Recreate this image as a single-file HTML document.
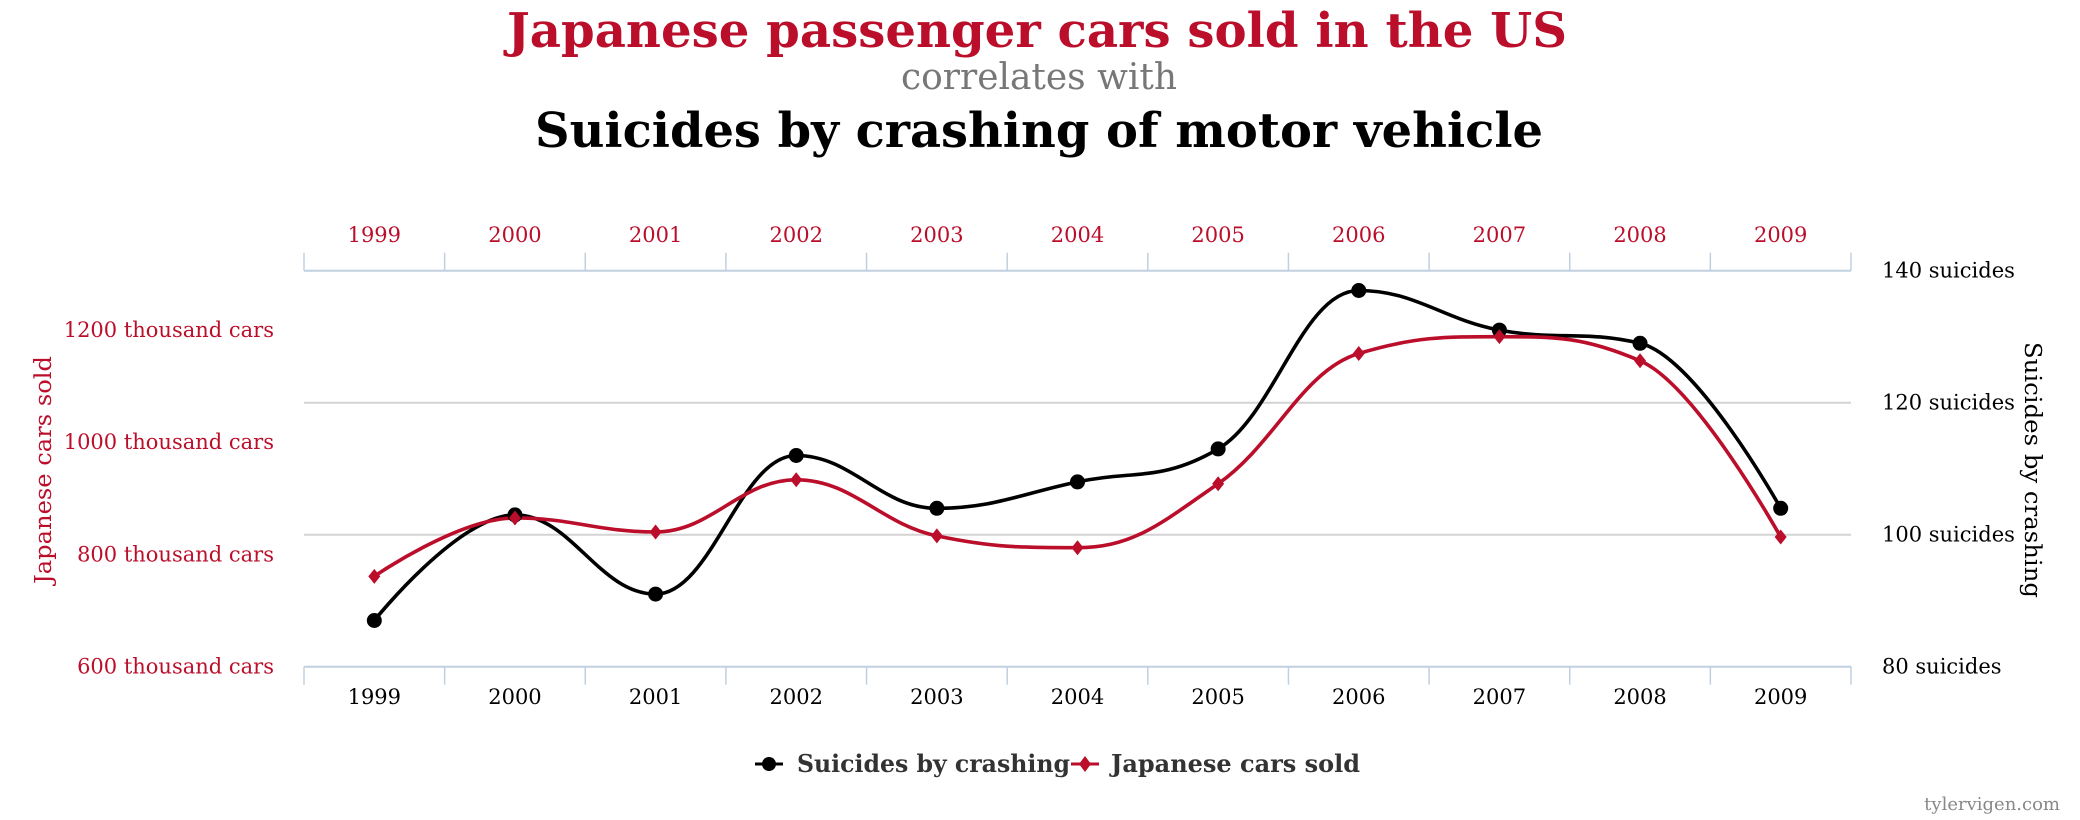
<!DOCTYPE html>
<html><head><meta charset="utf-8"><style>
html,body{margin:0;padding:0;background:#fff;}
svg{display:block;}
text{font-family:"DejaVu Serif","Liberation Serif",serif;}
</style></head><body>
<svg id="chart" width="2080" height="820" viewBox="0 0 2080 820" xmlns="http://www.w3.org/2000/svg">
<text x="1037" y="47" text-anchor="middle" font-size="48" font-weight="bold" fill="#bb0e2b" textLength="1060" lengthAdjust="spacingAndGlyphs">Japanese passenger cars sold in the US</text>
<text x="1039" y="89" text-anchor="middle" font-size="36" fill="#777" textLength="276" lengthAdjust="spacingAndGlyphs">correlates with</text>
<text x="1039" y="147" text-anchor="middle" font-size="48" font-weight="bold" fill="#000" textLength="1008" lengthAdjust="spacingAndGlyphs">Suicides by crashing of motor vehicle</text>
<g id="grid"></g>
<g id="axes"></g>
<g id="series"></g>
<text transform="translate(51,470) rotate(-90)" text-anchor="middle" font-size="23" fill="#bb0e2b" textLength="228" lengthAdjust="spacingAndGlyphs">Japanese cars sold</text>
<text transform="translate(2025,470) rotate(90)" text-anchor="middle" font-size="23" fill="#000" textLength="256" lengthAdjust="spacingAndGlyphs">Suicides by crashing</text>
<g>
 <g>
  <line x1="755" y1="764" x2="783" y2="764" stroke="#000" stroke-width="3"/>
  <circle cx="769" cy="764" r="7" fill="#000"/>
  <text x="797" y="772" font-size="24" font-weight="bold" fill="#333" textLength="273" lengthAdjust="spacingAndGlyphs">Suicides by crashing</text>
 </g>
 <g>
  <line x1="1071" y1="764" x2="1099" y2="764" stroke="#bb0e2b" stroke-width="3"/>
  <path d="M1085 756 L1091 764 L1085 772 L1079 764 Z" fill="#bb0e2b"/>
  <text x="1111" y="772" font-size="24" font-weight="bold" fill="#333" textLength="249" lengthAdjust="spacingAndGlyphs">Japanese cars sold</text>
 </g>
</g>
<text x="2060" y="810" text-anchor="end" font-size="18" fill="#888">tylervigen.com</text>
</svg>
<script>
const years = ["1999","2000","2001","2002","2003","2004","2005","2006","2007","2008","2009"];
const suicides = [87,103,91,112,104,108,113,137,131,129,104];
const carsSold = [761,865,840,933,833,812,926,1158,1188,1145,831];
const leftTicks = [600,800,1000,1200];
const rightTicks = [80,100,120,140];

const NS="http://www.w3.org/2000/svg";
const L=304,R=1851,T=270.7,B=666.7;
const band=(R-L)/years.length;
function x(i){return L+band*(i+0.5);}
function yR(v){return B-(v-80)/60*(B-T);}
function yL(v){return B-(v-600)*0.5613;}
function mk(tag,attrs,parent,txt){const e=document.createElementNS(NS,tag);for(const k in attrs)e.setAttribute(k,attrs[k]);if(txt!==undefined)e.textContent=txt;parent.appendChild(e);return e;}
const grid=document.getElementById('grid'),axes=document.getElementById('axes'),ser=document.getElementById('series');
rightTicks.forEach((v,i)=>{
  if(i>0&&i<rightTicks.length-1){
    const g=mk('line',{x1:L,x2:R,y1:yR(v),y2:yR(v),stroke:'#d4d4d4','stroke-width':2},grid);
    
    
  }
  const t=mk('text',{x:1882,y:yR(v)+7,'font-size':21,fill:'#000'},axes,v+' suicides');
  
  
});
leftTicks.forEach(v=>{
  const t=mk('text',{x:274,y:yL(v)+7,'text-anchor':'end','font-size':21,fill:'#bb0e2b'},axes,v+' thousand cars');
  
  
});
const ta=mk('line',{x1:L,x2:R,y1:T,y2:T,stroke:'#c0d0e0','stroke-width':2},axes);


const ba=mk('line',{x1:L,x2:R,y1:B,y2:B,stroke:'#c0d0e0','stroke-width':2},axes);


for(let i=0;i<=years.length;i++){
  const xx=L+band*i;
  mk('line',{x1:xx,x2:xx,y1:T-18,y2:T,stroke:'#c0d0e0','stroke-width':1.5},axes);
  mk('line',{x1:xx,x2:xx,y1:B,y2:B+18,stroke:'#c0d0e0','stroke-width':1.5},axes);
}
years.forEach((yv,i)=>{
  const a=mk('text',{x:x(i),y:242,'text-anchor':'middle','font-size':21,fill:'#bb0e2b'},axes,yv);
  
  
  const b=mk('text',{x:x(i),y:704,'text-anchor':'middle','font-size':21,fill:'#000'},axes,yv);
  
  
});
function spline(pts){
  const s=1.5,d=2.5;let path='M'+pts[0][0]+' '+pts[0][1];
  const conts=pts.map((p,i)=>{
    if(i===0||i===pts.length-1)return {lx:p[0],ly:p[1],rx:p[0],ry:p[1]};
    const [px,py]=p,[lx0,ly0]=pts[i-1],[nx,ny]=pts[i+1];
    let lx=(s*px+lx0)/d,ly=(s*py+ly0)/d,rx=(s*px+nx)/d,ry=(s*py+ny)/d;
    if(rx!==lx){const c=((ry-ly)*(rx-px))/(rx-lx)+py-ry;ly+=c;ry+=c;}
    if(ly>ly0&&ly>py){ly=Math.max(ly0,py);ry=2*py-ly;}else if(ly<ly0&&ly<py){ly=Math.min(ly0,py);ry=2*py-ly;}
    if(ry>ny&&ry>py){ry=Math.max(ny,py);ly=2*py-ry;}else if(ry<ny&&ry<py){ry=Math.min(ny,py);ly=2*py-ry;}
    return {lx,ly,rx,ry};
  });
  for(let i=1;i<pts.length;i++){
    const a=conts[i-1],b=conts[i];
    path+=` C${a.rx} ${a.ry} ${b.lx} ${b.ly} ${pts[i][0]} ${pts[i][1]}`;
  }
  return path;
}
const sPts=suicides.map((v,i)=>[x(i),yR(v)]);
const cPts=carsSold.map((v,i)=>[x(i),yL(v)]);
const sl=mk('path',{d:spline(sPts),fill:'none',stroke:'#000','stroke-width':3.6},ser);


const cl=mk('path',{d:spline(cPts),fill:'none',stroke:'#bb0e2b','stroke-width':3.6},ser);


sPts.forEach((p,i)=>{
  const c=mk('circle',{cx:p[0],cy:p[1],r:7.5,fill:'#000'},ser);
  
  
});
cPts.forEach((p,i)=>{
  const c=mk('path',{d:`M${p[0]} ${p[1]-7.5} L${p[0]+6} ${p[1]} L${p[0]} ${p[1]+7.5} L${p[0]-6} ${p[1]} Z`,fill:'#bb0e2b'},ser);
  
  
});
</script>
</body></html>
